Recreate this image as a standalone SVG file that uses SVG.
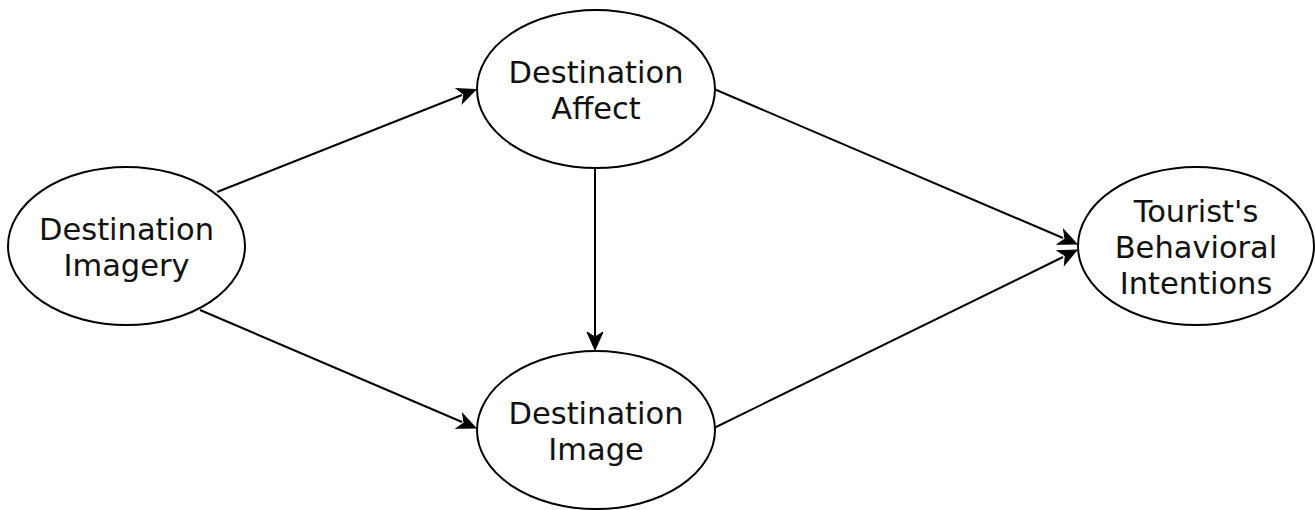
<svg xmlns="http://www.w3.org/2000/svg" width="1315" height="510" viewBox="0 0 1315 510">
  <style>
    .node { fill: #ffffff; stroke: #000000; stroke-width: 2; }
    .label { font-family: "DejaVu Sans", Verdana, sans-serif; font-size: 30.5px; fill: #111111; text-anchor: middle; }
    .edge { fill: none; stroke: #000000; stroke-width: 2; }
    .head { fill: #000000; stroke: #000000; stroke-width: 1; stroke-linejoin: miter; }
  </style>
  <defs>
    <!-- classic notched arrowhead, tip at the origin, pointing along +x -->
    <path id="arrowhead" d="M0,0 L-18,-8 L-13,0 L-18,8 Z"/>
  </defs>

  <rect width="1315" height="510" fill="#ffffff"/>

  <!-- connectors -->
  <g id="connectors">
    <line class="edge" x1="217" y1="192" x2="462" y2="95"/>
    <use href="#arrowhead" class="head" transform="translate(476,89.5) rotate(-21.6)"/>

    <line class="edge" x1="200" y1="310" x2="462" y2="422"/>
    <use href="#arrowhead" class="head" transform="translate(476,428) rotate(23.1)"/>

    <line class="edge" x1="595" y1="167" x2="595" y2="336"/>
    <use href="#arrowhead" class="head" transform="translate(595,350) rotate(90)"/>

    <line class="edge" x1="714" y1="89" x2="1063" y2="238"/>
    <use href="#arrowhead" class="head" transform="translate(1077,244) rotate(23.1)"/>

    <line class="edge" x1="714" y1="428" x2="1063" y2="257"/>
    <use href="#arrowhead" class="head" transform="translate(1077,250) rotate(-26.1)"/>
  </g>

  <!-- nodes -->
  <g id="destination-imagery">
    <ellipse class="node" cx="126.5" cy="246" rx="118.5" ry="79"/>
    <text class="label" x="126.5" y="240">Destination</text>
    <text class="label" x="126.5" y="276">Imagery</text>
  </g>

  <g id="destination-affect">
    <ellipse class="node" cx="596" cy="89" rx="119" ry="79"/>
    <text class="label" x="596" y="83">Destination</text>
    <text class="label" x="596" y="119">Affect</text>
  </g>

  <g id="destination-image">
    <ellipse class="node" cx="596" cy="430" rx="119" ry="79"/>
    <text class="label" x="596" y="424">Destination</text>
    <text class="label" x="596" y="460">Image</text>
  </g>

  <g id="behavioral-intentions">
    <ellipse class="node" cx="1196" cy="246" rx="118" ry="79"/>
    <text class="label" x="1196" y="222">Tourist's</text>
    <text class="label" x="1196" y="258">Behavioral</text>
    <text class="label" x="1196" y="294">Intentions</text>
  </g>
</svg>
